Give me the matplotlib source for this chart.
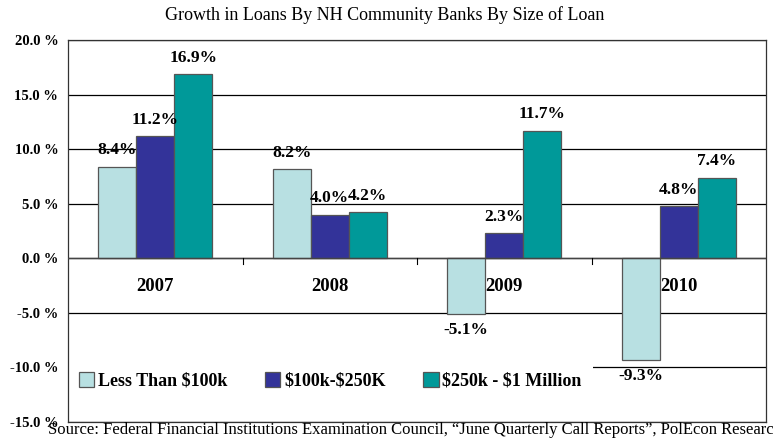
import matplotlib.pyplot as plt
import numpy as np

years = ["2007", "2008", "2009", "2010"]
series = ["Less Than \\$100k", "\\$100k-\\$250K", "\\$250k - \\$1 Million"]
small_loans = [8.4, 8.2, -5.1, -9.3]
mid_loans = [11.2, 4.0, 2.3, 4.8]
large_loans = [16.9, 4.2, 11.7, 7.4]
y_ticks = [-15, -10, -5, 0, 5, 10, 15, 20]

colors = ["#B8E0E2", "#333399", "#009999"]
serif = ["Liberation Serif", "DejaVu Serif"]

fig = plt.figure(figsize=(7.73, 4.38), dpi=100)
ax = fig.add_axes([0.088, 0.0365, 0.903, 0.872])

x = np.arange(len(years))
width = 0.218
offsets = [-width, 0, width]
values = [small_loans, mid_loans, large_loans]

for off, vals, col, name in zip(offsets, values, colors, series):
    ax.bar(x + off, vals, width, color=col, edgecolor="#555555", linewidth=0.9,
           label=name, zorder=3)
    for xi, v in zip(x + off, vals):
        if v >= 0:
            ax.annotate(f"{v:.1f}%", (xi, v), xytext=(0, 6), textcoords="offset points",
                        ha="center", va="bottom", fontsize=12.5, fontweight="bold",
                        family=serif, zorder=5)
        else:
            ax.annotate(f"{v:.1f}%", (xi, v), xytext=(0, -6), textcoords="offset points",
                        ha="center", va="top", fontsize=12.5, fontweight="bold",
                        family=serif, zorder=5)

# year labels just under the zero line
for xi, yr in zip(x, years):
    ax.text(xi, -2.6, yr, ha="center", va="center", fontsize=13.5, fontweight="bold",
            family=serif, zorder=4)

ax.set_xlim(-0.5, 3.5)
ax.set_ylim(-15, 20)
ax.set_yticks(y_ticks)
ax.set_yticklabels([f"{t:.1f} %" for t in y_ticks], fontsize=10.5, fontweight="bold",
                   family=serif)
ax.tick_params(axis="y", length=0, pad=7)
ax.set_xticks([])

for t in y_ticks:
    ax.axhline(t, color="black", linewidth=0.9, zorder=1)
ax.axhline(0, color="#444444", linewidth=1.0, zorder=4)
for b in [0.5, 1.5, 2.5]:
    ax.plot([b, b], [0, -0.5], color="black", linewidth=0.8, zorder=4)

for s in ax.spines.values():
    s.set_color("#333333")
    s.set_linewidth(0.9)

leg = ax.legend(loc="center left", bbox_to_anchor=(0.0, 0.107), ncol=3,
                prop={"family": serif, "weight": "bold", "size": 13},
                frameon=True, facecolor="white", edgecolor="none", framealpha=1,
                handlelength=0.85, handleheight=0.85, handletextpad=0.2,
                columnspacing=2.1, borderpad=0.6, borderaxespad=0.0)
leg.set_zorder(2)
leg.get_frame().set_boxstyle("square", pad=0)

fig.text(0.498, 0.966, "Growth in Loans By NH Community Banks By Size of Loan",
         ha="center", va="center", fontsize=13, family=serif)
fig.text(0.062, 0.018,
         "Source: Federal Financial Institutions Examination Council, \u201cJune Quarterly Call Reports\u201d, PolEcon Research",
         ha="left", va="center", fontsize=12, family=serif)

fig.savefig("out.png", dpi=100)
